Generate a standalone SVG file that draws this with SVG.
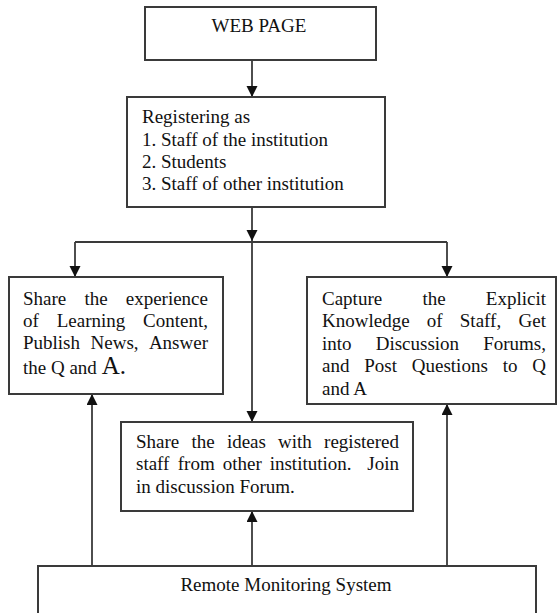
<svg xmlns="http://www.w3.org/2000/svg" width="557" height="613" viewBox="0 0 557 613">
<style>
.box{fill:#fff;stroke:#3a3a3a;stroke-width:2}
.t{font-family:"Liberation Serif","Times New Roman",serif;font-size:19px;fill:#111}
.e{text-anchor:end}
.m{text-anchor:middle}
.c{stroke:#3a3a3a;stroke-width:1.8;fill:none}
</style>
<defs>
<marker id="ah" markerUnits="userSpaceOnUse" markerWidth="12" markerHeight="12" refX="11" refY="5.5" orient="auto">
<path d="M0,0 L11,5.5 L0,11 z" fill="#111"/>
</marker>
</defs>
<rect width="557" height="613" fill="#fff"/>
<g id="connectors">
<line class="c" x1="252" y1="60" x2="252" y2="97" marker-end="url(#ah)"/>
<line class="c" x1="252" y1="207" x2="252" y2="241" marker-end="url(#ah)"/>
<line class="c" x1="75" y1="242" x2="447" y2="242"/>
<line class="c" x1="75" y1="242" x2="75" y2="277" marker-end="url(#ah)"/>
<line class="c" x1="447" y1="242" x2="447" y2="277" marker-end="url(#ah)"/>
<line class="c" x1="252" y1="242" x2="252" y2="422" marker-end="url(#ah)"/>
<line class="c" x1="92" y1="566" x2="92" y2="394" marker-end="url(#ah)"/>
<line class="c" x1="252" y1="566" x2="252" y2="511" marker-end="url(#ah)"/>
<line class="c" x1="447" y1="566" x2="447" y2="404" marker-end="url(#ah)"/>
</g>
<g id="webpage">
<rect class="box" x="145" y="7" width="231" height="53"/>
<text class="t m" x="259" y="32">WEB PAGE</text>
</g>
<g id="registering">
<rect class="box" x="127" y="97" width="258" height="110"/>
<text class="t" x="142" y="123">Registering as</text>
<text class="t" x="142" y="146">1. Staff of the institution</text>
<text class="t" x="142" y="168">2. Students</text>
<text class="t" x="142" y="190">3. Staff of other institution</text>
</g>
<g id="share-experience">
<rect class="box" x="9" y="277" width="214" height="117"/>
<text class="t" x="23" y="305">Share</text><text class="t" x="84.4" y="305">the</text><text class="t e" x="208" y="305">experience</text>
<text class="t" x="23" y="327">of</text><text class="t" x="56.7" y="327">Learning</text><text class="t e" x="208" y="327">Content,</text>
<text class="t" x="23" y="349">Publish</text><text class="t" x="90.5" y="349">News,</text><text class="t e" x="208" y="349">Answer</text>
<text class="t" x="23" y="374">the Q and <tspan font-size="25">A.</tspan></text>
</g>
<g id="capture">
<rect class="box" x="307" y="277" width="249" height="127"/>
<text class="t" x="322" y="305">Capture</text><text class="t" x="422.4" y="305">the</text><text class="t e" x="546" y="305">Explicit</text>
<text class="t" x="322" y="327">Knowledge</text><text class="t" x="426.8" y="327">of</text><text class="t" x="459.8" y="327">Staff,</text><text class="t e" x="546" y="327">Get</text>
<text class="t" x="322" y="350">into</text><text class="t" x="375.7" y="350">Discussion</text><text class="t e" x="546" y="350">Forums,</text>
<text class="t" x="322" y="372">and</text><text class="t" x="364.3" y="372">Post</text><text class="t" x="411.8" y="372">Questions</text><text class="t" x="502.7" y="372">to</text><text class="t e" x="546" y="372">Q</text>
<text class="t" x="322" y="395">and A</text>
</g>
<g id="share-ideas">
<rect class="box" x="121" y="422" width="292" height="89"/>
<text class="t" x="136" y="448">Share</text><text class="t" x="191.5" y="448">the</text><text class="t" x="226.9" y="448">ideas</text><text class="t" x="278.1" y="448">with</text><text class="t e" x="399" y="448">registered</text>
<text class="t" x="136" y="470">staff</text><text class="t" x="177.8" y="470">from</text><text class="t" x="222.7" y="470">other</text><text class="t" x="269.7" y="470">institution.</text><text class="t e" x="399" y="470">Join</text>
<text class="t" x="136" y="493">in discussion Forum.</text>
</g>
<g id="remote">
<rect class="box" x="38" y="566" width="498" height="60"/>
<text class="t m" x="286" y="591">Remote Monitoring System</text>
</g>
</svg>
